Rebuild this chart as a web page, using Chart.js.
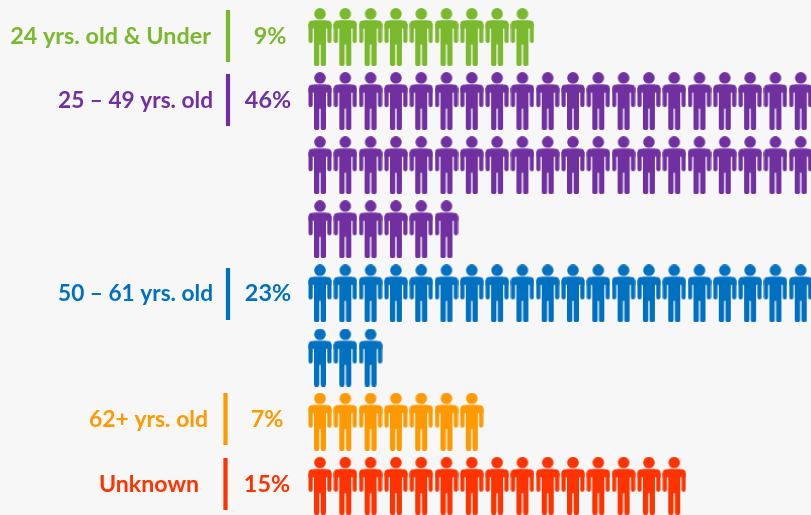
<!DOCTYPE html>
<html>
<head>
<meta charset="utf-8">
<title>Age groups</title>
<script src="https://cdn.jsdelivr.net/npm/chart.js@4/dist/chart.umd.min.js"></script>
<style>
    html, body { margin: 0; padding: 0; background: #f7f7f7; overflow: hidden; }
    canvas { display: block; }
</style>
</head>
<body>
<canvas id="age-chart" width="811" height="515"></canvas>
<script>
// Chart data
const groups = ['24 yrs. old & Under', '25 \u2013 49 yrs. old', '50 \u2013 61 yrs. old', '62+ yrs. old', 'Unknown'];
const percents = [9, 46, 23, 7, 15];
const colors = ['#7ab82e', '#7030a0', '#0070c0', '#ff9900', '#ff3300'];
const perRow = 20;

// Label placement, one entry per group
const labelRight = [211, 213, 213, 208, 199];
const labelWidth = [201, 155, 155, 119, 100];
const labelY = [36, 100, 293, 419, 484];
const percentCenter = [270, 268, 268, 267, 267];
const dividerX = [228, 228, 228, 225.5, 225.5];
const dividerTop = [10, 74, 268, 393, 458];

// Pixel layout of the icon grid
const colStart = 320, colWidth = 25.3;
const rowStart = 37, rowHeight = 64.1;

// Person icon, drawn once per colour and used as the point style
function makeIcon(color) {
    const c = document.createElement('canvas');
    c.width = 24;
    c.height = 58;
    const g = c.getContext('2d');
    g.fillStyle = color;
    g.beginPath();
    g.arc(12, 5.8, 5.8, 0, Math.PI * 2);
    g.fill();
    // shoulders
    g.beginPath();
    g.roundRect(0.5, 12.5, 23, 8, [4, 4, 0, 0]);
    g.fill();
    // arms
    g.beginPath();
    g.roundRect(0.5, 16, 4.2, 19, [0, 0, 2, 2]);
    g.roundRect(19.3, 16, 4.2, 19, [0, 0, 2, 2]);
    g.fill();
    // torso
    g.fillRect(6, 12.5, 12, 24);
    // legs
    g.beginPath();
    g.roundRect(6, 30, 5.3, 28, [0, 0, 2.6, 2.6]);
    g.roundRect(12.7, 30, 5.3, 28, [0, 0, 2.6, 2.6]);
    g.fill();
    return c;
}

// One dataset per group, wrapping to a new row every perRow icons
let nextRow = 0;
const datasets = percents.map((pct, i) => {
    const points = [];
    for (let n = 0; n < pct; n++) {
        points.push({ x: n % perRow, y: nextRow + Math.floor(n / perRow) });
    }
    nextRow += Math.ceil(pct / perRow);
    return {
        label: groups[i],
        data: points,
        pointStyle: makeIcon(colors[i]),
        pointRadius: 12,
        clip: false
    };
});

// Group name, divider and percentage to the left of each row of icons
const rowLabels = {
    id: 'rowLabels',
    afterDatasetsDraw(chart) {
        const ctx = chart.ctx;
        ctx.save();
        ctx.textBaseline = 'middle';
        ctx.font = 'bold 23.4px Lato';
        groups.forEach((name, i) => {
            ctx.fillStyle = colors[i];
            ctx.textAlign = 'right';
            ctx.fillText(name, labelRight[i], labelY[i], labelWidth[i]);
            ctx.textAlign = 'center';
            ctx.fillText(percents[i] + '%', percentCenter[i], labelY[i]);
            ctx.fillRect(dividerX[i] - 2.1, dividerTop[i], 4.2, 52);
        });
        ctx.restore();
    }
};

new Chart(document.getElementById('age-chart'), {
    type: 'scatter',
    data: { datasets },
    plugins: [rowLabels],
    options: {
        responsive: false,
        animation: false,
        layout: { padding: 0, autoPadding: false },
        plugins: {
            legend: { display: false },
            tooltip: { enabled: false }
        },
        scales: {
            x: {
                display: false,
                min: -colStart / colWidth,
                max: (811 - colStart) / colWidth
            },
            y: {
                display: false,
                reverse: true,
                min: -rowStart / rowHeight,
                max: (515 - rowStart) / rowHeight
            }
        }
    }
});
</script>
</body>
</html>
